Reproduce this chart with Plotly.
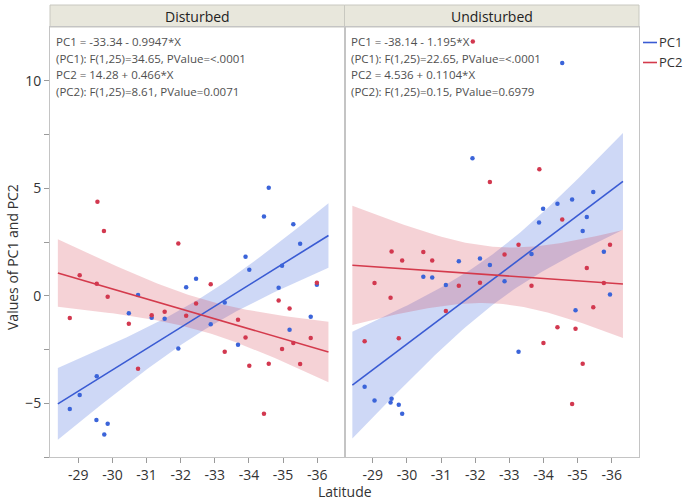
import numpy as np
import plotly.graph_objects as go

# ---------------- data ----------------
panels = ["Disturbed", "Undisturbed"]

dist_pc1_x = [-28.75, -29.04, -29.54, -29.53, -29.86, -29.76, -30.75, -30.48, -31.15, -31.53,
              -31.93, -32.16, -32.45, -32.88, -33.29, -33.90, -34.01, -33.68, -34.44, -34.58,
              -34.87, -34.97, -35.30, -35.50, -35.19, -35.81, -35.99]
dist_pc1_y = [-5.27, -4.62, -3.74, -5.78, -5.95, -6.45, 0.03, -0.81, -1.02, -1.07,
              -2.45, 0.39, 0.79, -1.32, -0.31, 1.81, 1.21, -2.28, 3.69, 5.02,
              0.37, 1.40, 3.33, 2.42, -1.58, -0.98, 0.51]

dist_pc2_x = [-28.75, -29.04, -29.54, -29.56, -29.75, -29.86, -30.48, -30.75, -31.15, -31.53,
              -31.93, -32.16, -32.45, -32.88, -33.90, -33.68, -33.29, -34.01, -34.58, -34.44,
              -34.87, -35.19, -34.97, -35.30, -35.50, -35.81, -35.99]
dist_pc2_y = [-1.04, 0.95, 0.56, 4.37, 3.01, -0.05, -1.30, -3.40, -0.91, -0.74,
              2.43, -0.93, -0.36, 0.54, -1.94, -1.12, -2.60, -3.26, -3.16, -5.49,
              -0.22, -0.59, -2.48, -2.20, -3.18, -1.97, 0.60]

und_pc1_x = [-28.76, -29.05, -29.52, -29.55, -29.76, -29.86, -30.48, -30.74, -31.14, -31.52,
             -31.92, -32.14, -32.43, -32.86, -33.27, -33.65, -33.87, -33.99, -34.41, -34.84,
             -34.94, -35.27, -35.15, -35.46, -35.77, -35.95, -34.55]
und_pc1_y = [-4.23, -4.87, -4.96, -4.79, -5.07, -5.49, 0.88, 0.85, 0.50, 1.61,
             6.40, 1.73, 1.43, 0.68, -2.60, 1.94, 3.41, 4.05, 4.28, 4.48,
             -0.67, 3.66, 3.01, 4.82, 2.05, 0.06, 10.82]

und_pc2_x = [-28.76, -29.05, -29.52, -29.55, -29.76, -29.86, -30.48, -30.74, -31.14, -31.52,
             -32.43, -32.14, -32.86, -33.27, -33.65, -33.88, -34.55, -34.00, -34.41, -34.94,
             -34.84, -35.15, -35.27, -35.46, -35.77, -35.95, -31.93]
und_pc2_y = [-2.12, 0.59, -0.09, 2.06, -1.98, 1.64, 2.03, 1.64, -0.71, 0.47,
             5.29, 0.60, 1.92, 2.37, 0.47, 5.88, 3.55, -2.20, -1.46, -1.53,
             -5.04, -3.16, 1.29, -0.53, 0.59, 2.37, 11.83]

eq_text = {
    "Disturbed": ["PC1 = -33.34 - 0.9947*X",
                  "(PC1): F(1,25)=34.65, PValue=<.0001",
                  "PC2 = 14.28 + 0.466*X",
                  "(PC2): F(1,25)=8.61, PValue=0.0071"],
    "Undisturbed": ["PC1 = -38.14 - 1.195*X",
                    "(PC1): F(1,25)=22.65, PValue=<.0001",
                    "PC2 = 4.536 + 0.1104*X",
                    "(PC2): F(1,25)=0.15, PValue=0.6979"],
}

x_ticks = [-29, -30, -31, -32, -33, -34, -35, -36]
x_range = [-28.17, -36.8]
fit_span = [-28.4, -36.33]
y_range = [-7.5, 12.5]

# ---------------- styles ----------------
W, H = 685, 500
ML, MR, MT, MB = 50, 46, 27, 43
PW, PH = W - ML - MR, H - MT - MB
FONT = "Open Sans, Noto Sans, sans-serif"

blue_pt, blue_ln, blue_band = "#3b64d9", "#3a5bd3", "rgba(60,100,220,0.25)"
red_pt, red_ln, red_band = "#d2384f", "#d43a4c", "rgba(210,50,70,0.22)"


def fit_band(x, y, xs):
    x = np.asarray(x, float); y = np.asarray(y, float)
    n = len(x)
    b, a = np.polyfit(x, y, 1)
    res = y - (a + b * x)
    s = np.sqrt(np.sum(res ** 2) / (n - 2))
    xbar = x.mean(); sxx = np.sum((x - xbar) ** 2)
    t = 2.0595
    yhat = a + b * xs
    half = t * s * np.sqrt(1.0 / n + (xs - xbar) ** 2 / sxx)
    return yhat, yhat - half, yhat + half


fig = go.Figure()
series = {
    "Disturbed": [(dist_pc1_x, dist_pc1_y, blue_pt, blue_ln, blue_band),
                  (dist_pc2_x, dist_pc2_y, red_pt, red_ln, red_band)],
    "Undisturbed": [(und_pc1_x, und_pc1_y, blue_pt, blue_ln, blue_band),
                    (und_pc2_x, und_pc2_y, red_pt, red_ln, red_band)],
}
xs = np.linspace(fit_span[0], fit_span[1], 80)

for i, p in enumerate(panels):
    xa = "x" if i == 0 else "x2"
    ya = "y" if i == 0 else "y2"
    for (sx, sy, cp, cl, cb) in series[p]:
        yhat, lo, hi = fit_band(sx, sy, xs)
        fig.add_trace(go.Scatter(x=np.concatenate([xs, xs[::-1]]),
                                 y=np.concatenate([hi, lo[::-1]]),
                                 fill="toself", fillcolor=cb, line=dict(width=0),
                                 mode="lines", hoverinfo="skip", showlegend=False,
                                 xaxis=xa, yaxis=ya))
    for (sx, sy, cp, cl, cb) in series[p]:
        yhat, lo, hi = fit_band(sx, sy, xs)
        fig.add_trace(go.Scatter(x=xs, y=yhat, mode="lines", line=dict(color=cl, width=1.6),
                                 showlegend=False, xaxis=xa, yaxis=ya))
        fig.add_trace(go.Scatter(x=sx, y=sy, mode="markers",
                                 marker=dict(color=cp, size=4.5),
                                 showlegend=False, xaxis=xa, yaxis=ya))

axis_common = dict(showgrid=False, zeroline=False, showline=True, linecolor="#c4c4c4",
                   linewidth=1, mirror=True, ticks="outside", tickcolor="#9a9a9a",
                   ticklen=5, tickfont=dict(family=FONT, size=14, color="#333333"))

fig.update_layout(
    width=W, height=H, margin=dict(l=ML, r=MR, t=MT, b=MB),
    paper_bgcolor="white", plot_bgcolor="white", showlegend=False,
    xaxis=dict(domain=[0, 0.5], range=x_range, tickvals=x_ticks,
               ticktext=[str(v) for v in x_ticks], **axis_common),
    xaxis2=dict(domain=[0.5, 1], range=x_range, tickvals=x_ticks,
                ticktext=[str(v) for v in x_ticks], anchor="y2", **axis_common),
    yaxis=dict(range=y_range, tickvals=[-5, 0, 5, 10],
               minor=dict(ticks="outside", tickvals=[-7.5, -2.5, 2.5, 7.5], ticklen=5,
                          tickcolor="#9a9a9a"),
               **axis_common),
    yaxis2=dict(range=y_range, anchor="x2", showticklabels=False, showgrid=False,
                zeroline=False, showline=True, linecolor="#c4c4c4", mirror=True, ticks=""),
)

# header strips
hdr_top = 1 + 22 / PH
for i, p in enumerate(panels):
    x0, x1 = (0, 0.5) if i == 0 else (0.5, 1)
    fig.add_shape(type="rect", xref="paper", yref="paper", x0=x0, x1=x1, y0=1, y1=hdr_top,
                  fillcolor="#e8e7dc", line=dict(color="#c8c8c0", width=1), layer="below")
    fig.add_annotation(xref="paper", yref="paper", x=(x0 + x1) / 2, y=(1 + hdr_top) / 2,
                       text=p, showarrow=False, font=dict(family=FONT, size=14, color="#222222"),
                       xanchor="center", yanchor="middle")
    for k, line in enumerate(eq_text[p]):
        ypix = 41.7 + k * 16.5
        fig.add_annotation(xref="paper", yref="paper", x=x0 + 4 / PW, y=(H - MB - ypix) / PH,
                           text=line, showarrow=False, xanchor="left", yanchor="middle",
                           font=dict(family=FONT, size=11.5, color="#505050"))

# axis titles
fig.add_annotation(xref="paper", yref="paper", x=0.5, y=(H - MB - 492) / PH, text="Latitude",
                   showarrow=False, font=dict(family=FONT, size=14, color="#333333"),
                   xanchor="center", yanchor="middle")
fig.add_annotation(xref="paper", yref="paper", x=(12 - ML) / PW, y=(H - MB - 257) / PH,
                   text="Values of PC1 and PC2", textangle=-90, showarrow=False,
                   font=dict(family=FONT, size=14, color="#333333"),
                   xanchor="center", yanchor="middle")

# manual legend
for name, col, ypix in [("PC1", blue_ln, 42.5), ("PC2", red_ln, 62.5)]:
    yp = (H - MB - ypix) / PH
    fig.add_shape(type="line", xref="paper", yref="paper",
                  x0=(643 - ML) / PW, x1=(657 - ML) / PW, y0=yp, y1=yp,
                  line=dict(color=col, width=1.6))
    fig.add_annotation(xref="paper", yref="paper", x=(657 - ML) / PW, y=yp, text=name,
                       showarrow=False, xanchor="left", yanchor="middle",
                       font=dict(family=FONT, size=13, color="#333333"))

fig.write_html("out.html", config={"displayModeBar": False},
               post_script="document.body.style.margin='0px';document.body.style.overflow='hidden';")
